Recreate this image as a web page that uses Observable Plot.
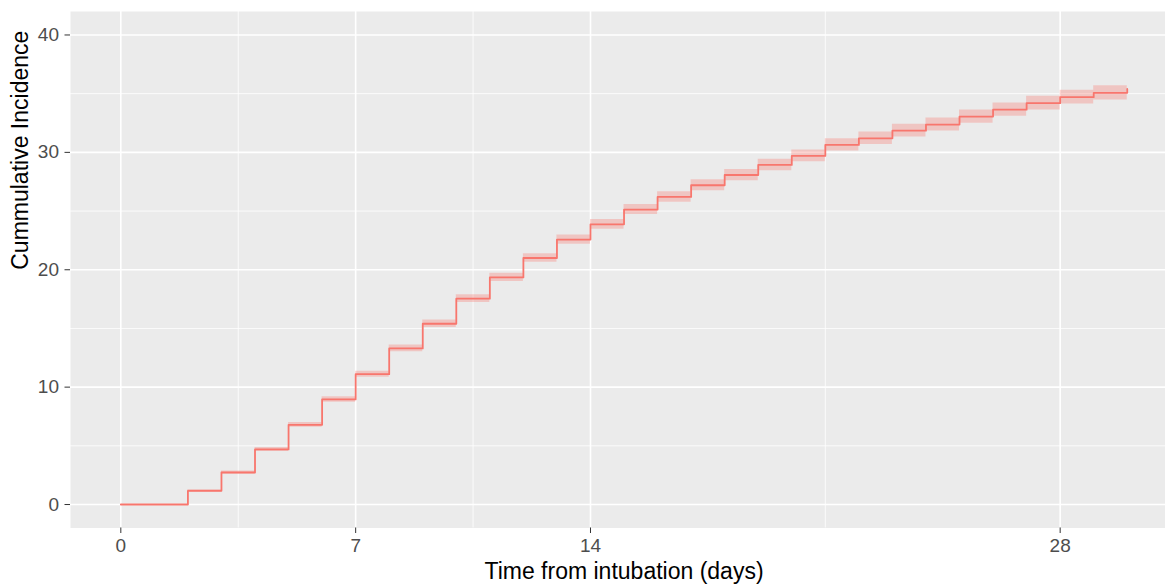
<!DOCTYPE html>
<html>
<head>
<meta charset="utf-8">
<script src="https://cdn.jsdelivr.net/npm/d3@7"></script>
<script src="https://cdn.jsdelivr.net/npm/@observablehq/plot@0.6"></script>
<style>
  html, body { margin: 0; padding: 0; background: #ffffff; overflow: hidden; }
  #chart svg { display: block; }
</style>
</head>
<body>
<div id="chart"></div>
<script>
// Time (days) at which the cumulative incidence steps
const days   = [0, 2, 3, 4, 5, 6, 7, 8, 9, 10, 11, 12, 13, 14, 15, 16, 17, 18, 19, 20, 21, 22, 23, 24, 25, 26, 27, 28, 29, 30];
// Cumulative incidence estimate (%)
const cuminc = [0, 1.17, 2.73, 4.69, 6.79, 8.95, 11.1, 13.3, 15.4, 17.54, 19.35, 21.0, 22.57, 23.87, 25.13, 26.2, 27.2, 28.07, 28.93, 29.7, 30.63, 31.2, 31.85, 32.37, 33.05, 33.64, 34.19, 34.7, 35.07, 35.4];
// Confidence band
const lower  = [0, 1.07, 2.6, 4.52, 6.59, 8.72, 10.84, 13.02, 15.09, 17.21, 19.0, 20.63, 22.18, 23.46, 24.7, 25.75, 26.74, 27.59, 28.44, 29.2, 30.11, 30.67, 31.31, 31.82, 32.49, 33.07, 33.61, 34.11, 34.47, 34.8];
const upper  = [0, 1.27, 2.86, 4.86, 6.99, 9.18, 11.36, 13.58, 15.71, 17.87, 19.7, 21.37, 22.96, 24.28, 25.56, 26.65, 27.66, 28.55, 29.42, 30.2, 31.15, 31.73, 32.39, 32.92, 33.61, 34.21, 34.77, 35.29, 35.67, 36.0];

// Axis ticks / grid
const xTicks = [0, 7, 14, 28];
const xMinor = [3.5, 10.5, 21];
const yTicks = [0, 10, 20, 30, 40];
const yMinor = [5, 15, 25, 35];

const xTitle = "Time from intubation (days)";
const yTitle = "Cummulative Incidence";

const data = days.map((d, i) => ({day: d, est: cuminc[i], lo: lower[i], hi: upper[i]}));

const color = "#F8766D";

const chart = Plot.plot({
  width: 1165,
  height: 584,
  marginLeft: 70,
  marginRight: 0,
  marginTop: 11,
  marginBottom: 56.5,
  style: {fontFamily: "'Liberation Sans', Arial, sans-serif", background: "#ffffff"},
  x: {domain: [-1.5, 31.14], axis: null},
  y: {domain: [-2, 42], axis: null},
  marks: [
    Plot.frame({fill: "#EBEBEB", stroke: null}),
    Plot.ruleY(yMinor, {stroke: "#ffffff", strokeWidth: 0.8}),
    Plot.ruleX(xMinor, {stroke: "#ffffff", strokeWidth: 0.8}),
    Plot.ruleY(yTicks, {stroke: "#ffffff", strokeWidth: 1.6}),
    Plot.ruleX(xTicks, {stroke: "#ffffff", strokeWidth: 1.6}),
    Plot.areaY(data, {x: "day", y1: "lo", y2: "hi", curve: "step-after", fill: color, fillOpacity: 0.32}),
    Plot.line(data, {x: "day", y: "est", curve: "step-after", stroke: color, strokeWidth: 1.8}),
    Plot.axisX({ticks: xTicks, tickSize: 5.5, tickPadding: 5, fontSize: 19, stroke: "#333333", fill: "#4D4D4D", label: null, tickFormat: d => String(d)}),
    Plot.axisY({ticks: yTicks, tickSize: 5.5, tickPadding: 6, fontSize: 19, stroke: "#333333", fill: "#4D4D4D", label: null, tickFormat: d => String(d)}),
    Plot.text([xTitle], {frameAnchor: "bottom", lineAnchor: "middle", dy: 44, dx: 6, fontSize: 23, fill: "#000000", text: d => d}),
    Plot.text([yTitle], {frameAnchor: "left", lineAnchor: "middle", dx: -50, rotate: -90, fontSize: 23, fill: "#000000", text: d => d})
  ]
});

document.getElementById("chart").appendChild(chart);
</script>
</body>
</html>
